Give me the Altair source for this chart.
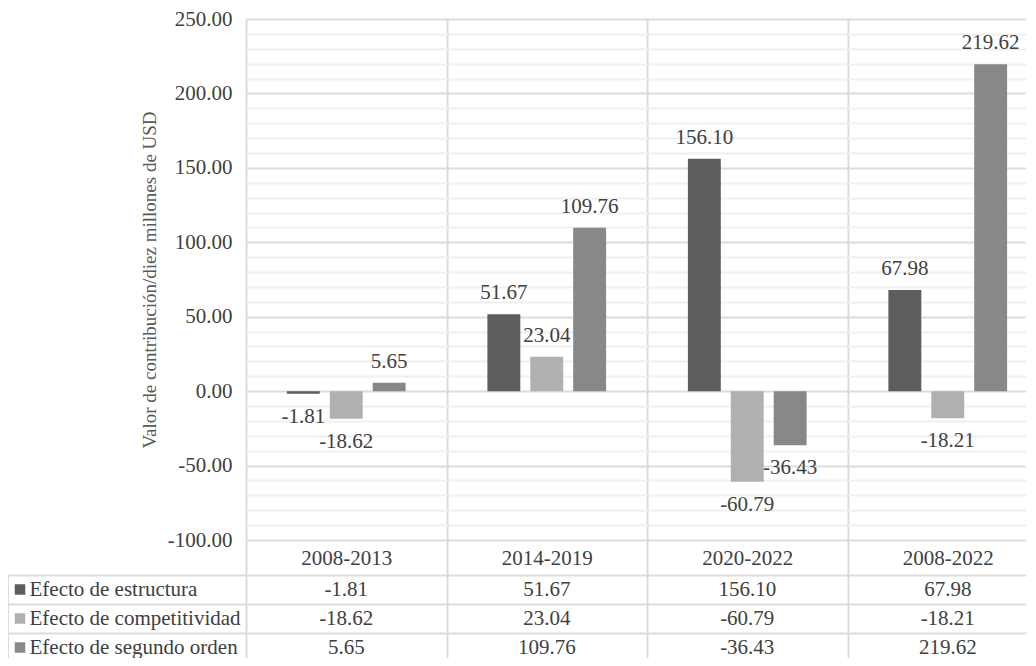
import altair as alt
import pandas as pd

categories = ["2008-2013", "2014-2019", "2020-2022", "2008-2022"]
series = ["Efecto de estructura", "Efecto de competitividad", "Efecto de segundo orden"]
estructura = [-1.81, 51.67, 156.10, 67.98]
competitividad = [-18.62, 23.04, -60.79, -18.21]
segundo_orden = [5.65, 109.76, -36.43, 219.62]
colors = ["#5d5d5d", "#b0b0b0", "#888888"]

rows = []
for s, vals in zip(series, [estructura, competitividad, segundo_orden]):
    for c, v in zip(categories, vals):
        rows.append({"periodo": c, "serie": s, "valor": v, "label": f"{v:.2f}"})
df = pd.DataFrame(rows)
df_series = pd.DataFrame({"serie": series})

FONT = "Liberation Serif"
FS = 21
TXT = "#404040"
GRID = "#dcdcdc"
MINOR = "#efefef"

W = 802
H = 521
HEADER = 35
TH = 87
LEFTCOL = 238

x_scale = alt.Scale(domain=categories, paddingInner=0, paddingOuter=0)
color_enc = alt.Color("serie:N", scale=alt.Scale(domain=series, range=colors), legend=None)

x_top = alt.X(
    "periodo:N", sort=categories, scale=x_scale,
    axis=alt.Axis(title=None, tickBand="extent", grid=True, gridColor=GRID, gridWidth=2,
                  ticks=True, tickSize=HEADER, tickColor=GRID, tickWidth=2, domain=False,
                  labelPadding=-17, labelBaseline="middle", labelAngle=0,
                  labelFont=FONT, labelFontSize=FS, labelColor=TXT),
)
y_top = alt.Y(
    "valor:Q", scale=alt.Scale(domain=[-100, 250], nice=False, zero=False),
    axis=alt.Axis(
        title="Valor de contribución/diez millones de USD",
        values=list(range(-100, 251, 10)),
        labelExpr="datum.value % 50 === 0 ? replace(format(datum.value, '.2f'), '\u2212', '-') : ''",
        labelOverlap=False, ticks=False, domain=False,
        gridColor={"condition": {"test": "datum.value % 50 === 0", "value": GRID}, "value": MINOR},
        gridWidth=2, labelPadding=14, labelFont=FONT, labelFontSize=FS, labelColor=TXT,
        titleFont=FONT, titleFontSize=19, titleFontWeight="normal", titleColor="#595959",
        titlePadding=8,
    ),
)
xoff = alt.XOffset("serie:N", sort=series,
                   scale=alt.Scale(domain=series, paddingInner=0.233, paddingOuter=0.953))

base = alt.Chart(df).encode(x=x_top, xOffset=xoff, y=y_top)
bars = base.mark_bar().encode(color=color_enc)
pos_lbl = base.transform_filter("datum.valor >= 0").mark_text(
    font=FONT, fontSize=FS, color=TXT, baseline="middle", dy=-21).encode(text="label:N")
neg_lbl = base.transform_filter("datum.valor < 0").mark_text(
    font=FONT, fontSize=FS, color=TXT, baseline="middle", dy=23).encode(text="label:N")

top = alt.layer(bars, pos_lbl, neg_lbl).properties(width=W, height=H)

x_tab = alt.X("periodo:N", sort=categories, scale=x_scale,
              axis=alt.Axis(title=None, labels=False, ticks=False, domain=False, grid=True,
                            tickBand="extent", gridColor=GRID, gridWidth=2))
y_tab = alt.Y("serie:N", sort=series, scale=alt.Scale(domain=series, paddingInner=0, paddingOuter=0),
              axis=alt.Axis(title=None, labelAlign="left", labelBaseline="middle", labelLimit=0,
                            tickBand="extent", ticks=True, tickSize=LEFTCOL, tickColor=GRID, tickWidth=2,
                            labelPadding=-(LEFTCOL - 217), grid=True, gridColor=GRID, gridWidth=2,
                            domain=False, labelFont=FONT, labelFontSize=FS, labelColor=TXT))

tab_text = alt.Chart(df).mark_text(font=FONT, fontSize=FS, color=TXT).encode(
    x=x_tab, y=y_tab, text="label:N")
squares = alt.Chart(df_series).mark_point(shape="square", filled=True, size=110, opacity=1).encode(
    x=alt.value(-226), y=alt.Y("serie:N", sort=series), color=color_enc)
left_border = alt.Chart(df_series.head(1)).mark_rule(color=GRID, strokeWidth=2).encode(
    x=alt.value(-LEFTCOL), y=alt.value(0), y2=alt.value(TH))

table = alt.layer(tab_text, squares, left_border).properties(width=W, height=TH)

chart = alt.vconcat(top, table, spacing=HEADER, bounds="flush").properties(
    padding={"top": -1, "left": -2, "right": -24, "bottom": -6}
).configure_view(stroke=GRID, strokeWidth=2).configure(background="white")

chart.save("out.html", embed_options={"renderer": "svg", "actions": False})
